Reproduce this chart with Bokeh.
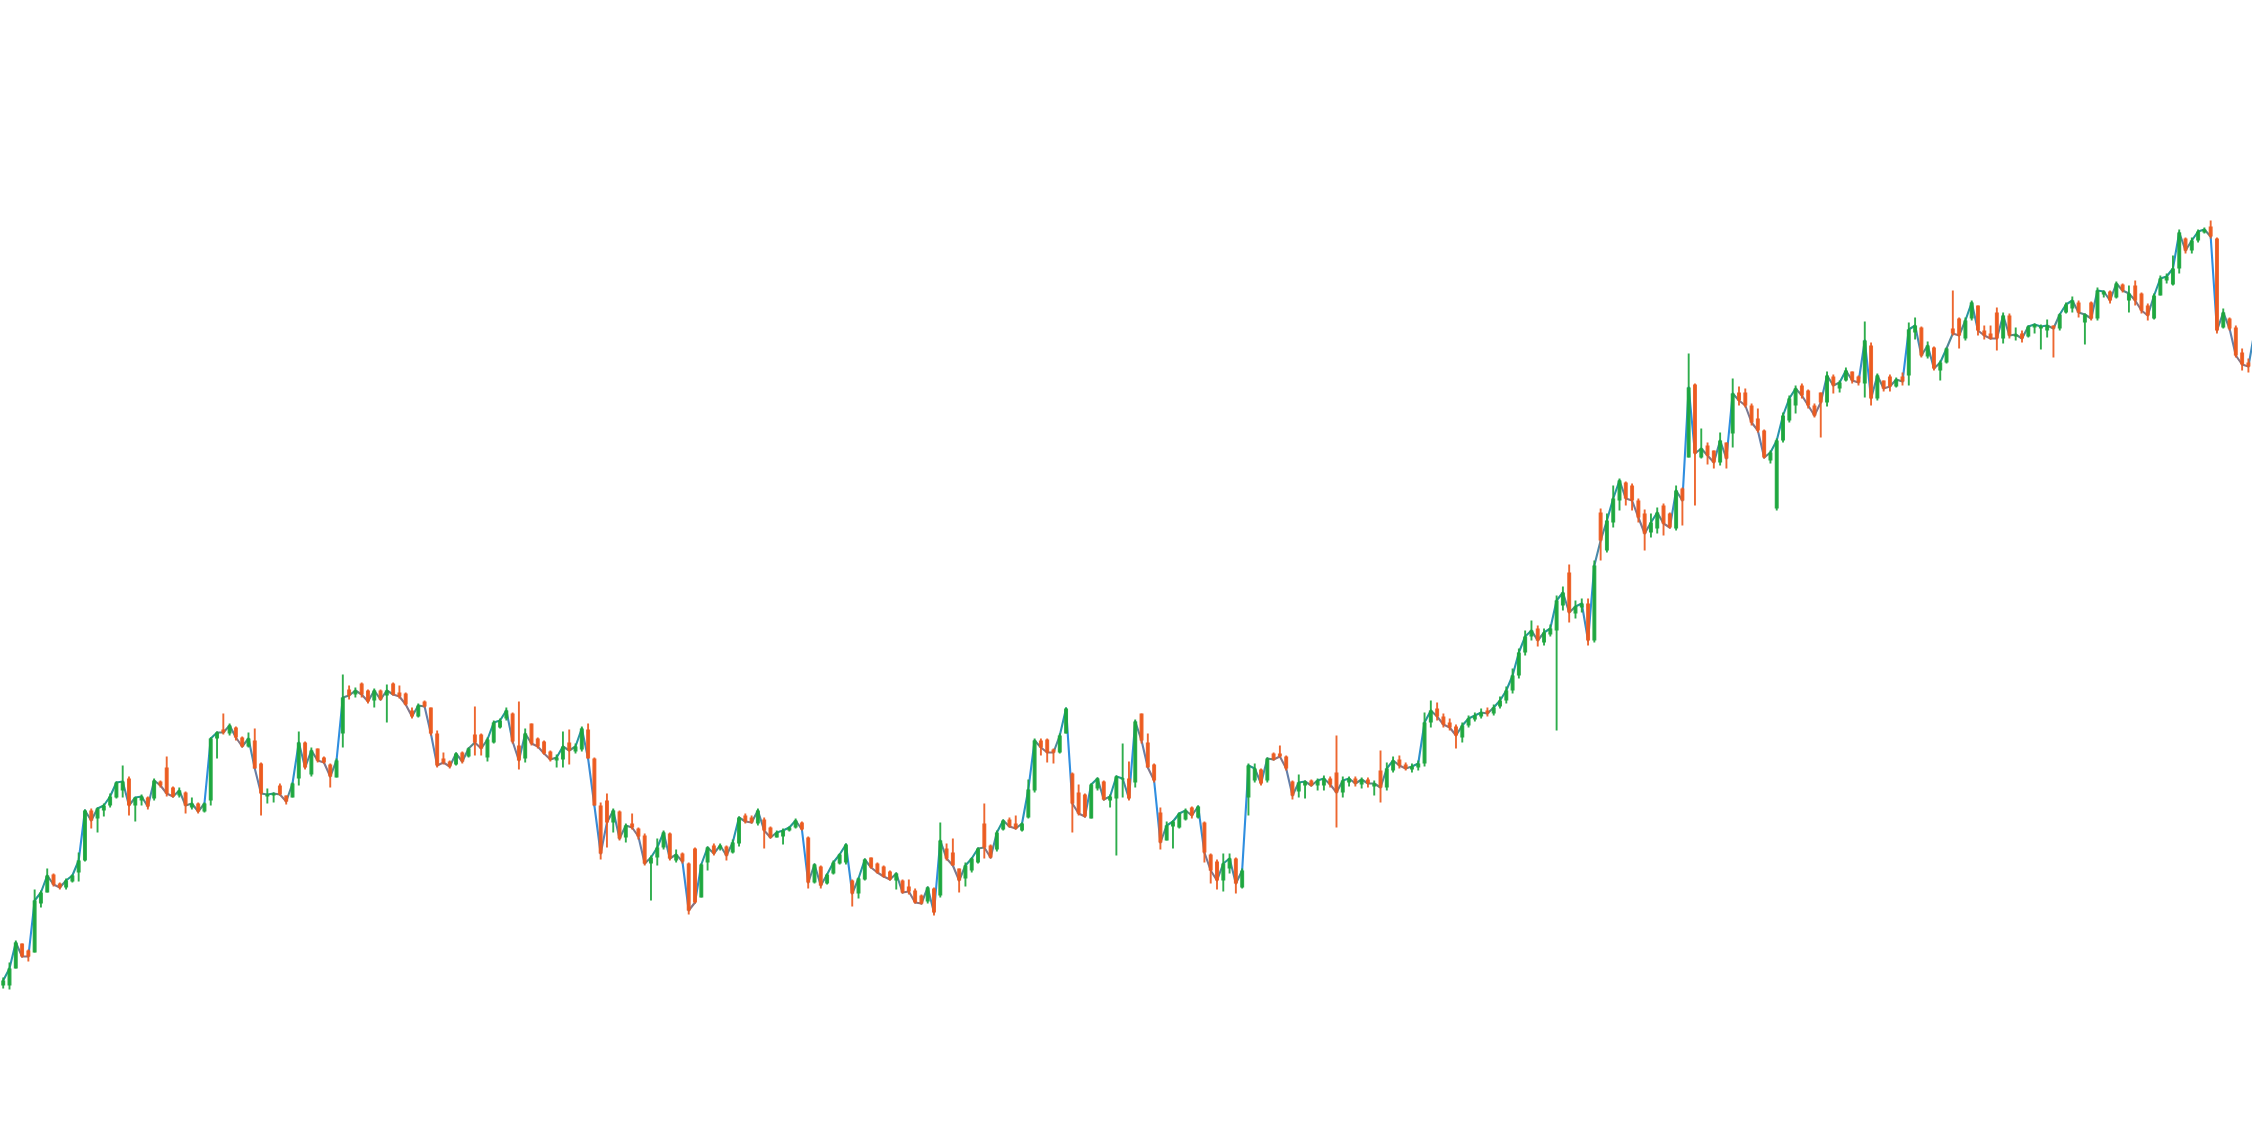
import numpy as np
from bokeh.plotting import figure
from bokeh.models import Range1d, ColumnDataSource
from bokeh.embed import file_html
from bokeh.resources import INLINE

# ---- data (arbitrary price units) ----
open_ = [
16.3,16.3,18.0,20.5,19.8,19.6,24.5,25.6,27.4,26.5,
26.1,26.7,27.6,28.8,33.8,33.0,33.8,34.3,35.1,35.8,
37.0,34.3,34.8,35.1,35.0,36.7,38.1,36.1,35.3,35.6,
34.1,34.5,33.7,34.8,41.0,41.9,41.5,42.1,41.1,40.2,
40.8,38.5,35.2,35.3,36.3,35.3,35.1,37.0,40.6,37.4,
40.0,39.1,38.4,37.1,41.5,45.9,45.4,46.5,45.8,44.8,
45.8,45.3,46.5,45.6,45.5,43.8,43.2,44.7,44.1,41.5,
39.0,38.7,38.4,39.6,39.2,41.4,41.4,39.1,40.6,42.1,
43.0,43.5,40.3,39.0,42.5,41.0,40.7,39.7,38.8,38.9,
40.6,39.7,39.9,41.9,39.0,34.3,34.8,32.6,33.7,31.1,
32.5,32.0,31.3,28.5,29.1,30.1,31.5,28.8,29.5,28.5,
30.0,25.1,28.6,30.3,30.0,30.2,29.6,30.5,33.3,33.1,
32.5,32.9,32.1,31.1,31.2,31.8,32.1,32.6,31.1,26.6,
28.2,26.5,27.5,28.5,28.6,26.8,25.5,26.9,29.1,28.5,
28.2,27.7,26.8,26.8,26.2,25.8,25.3,24.7,26.0,25.3,
30.0,29.6,28.0,27.0,27.8,28.6,32.5,30.3,29.9,31.9,
32.9,32.5,31.8,33.1,35.8,40.8,40.9,39.9,39.6,41.5,
37.5,35.6,35.4,33.0,36.0,36.7,34.8,35.0,36.9,37.0,
36.6,43.5,40.6,38.4,33.6,30.8,32.2,32.1,32.9,34.1,
33.1,32.6,29.4,28.7,26.8,28.0,29.0,26.1,35.1,36.8,
37.9,36.8,39.5,39.5,39.2,36.7,35.7,36.3,36.8,36.3,
36.3,37.0,37.6,35.6,36.6,37.0,36.4,36.9,36.2,37.8,
36.1,37.8,38.9,38.4,37.9,38.1,38.5,42.6,44.0,43.2,
42.6,42.2,41.1,42.3,42.9,43.2,43.8,43.5,44.2,44.8,
45.8,47.3,49.6,51.2,52.0,50.6,51.4,51.8,54.3,57.6,
53.5,54.1,54.5,50.8,63.6,59.8,62.6,64.8,66.6,66.3,
64.8,63.5,61.6,62.0,64.3,63.5,62.0,66.0,69.1,76.4,
69.1,70.3,69.8,68.6,70.6,71.5,75.6,75.6,74.3,73.0,
71.8,68.8,64.0,70.8,72.8,74.3,76.3,75.8,74.3,75.6,
74.6,77.2,76.0,76.8,77.7,77.2,76.5,80.3,75.0,76.8,
77.2,76.2,77.2,77.3,81.6,82.1,79.2,80.1,77.8,78.6,
82.0,83.0,81.0,83.0,84.3,81.8,81.5,83.6,81.0,83.3,
81.2,81.5,81.2,82.1,82.0,81.8,82.3,82.0,83.6,84.0,
84.6,82.6,84.6,83.0,85.4,85.7,85.1,86.4,84.8,86.3,
85.5,84.3,83.0,85.3,86.8,86.4,88.0,91.0,89.8,90.8,
91.6,92.2,91.0,82.1,83.0,82.1,79.6,78.6,78.2,77.0,74.0]

high = [
17.1,18.6,20.8,20.5,19.9,25.9,25.8,28.0,27.5,26.6,
27.0,27.4,29.6,33.9,34.0,34.1,34.5,35.5,36.7,38.3,
37.2,35.1,35.4,35.2,37.0,36.8,39.2,36.2,36.1,35.7,
35.1,34.6,34.6,41.1,41.7,43.5,42.5,42.2,41.2,41.6,
42.0,38.6,36.0,35.6,36.5,35.3,36.6,41.7,40.7,40.1,
40.0,39.2,38.5,39.0,47.4,46.3,46.1,46.6,45.9,46.0,
45.9,46.4,46.6,46.3,45.6,44.1,44.5,44.8,44.1,41.8,
39.6,38.8,39.6,39.7,40.1,44.2,41.5,41.1,42.8,43.0,
44.1,43.6,44.7,42.0,42.5,41.1,40.8,39.8,39.4,41.7,
41.9,40.5,42.2,42.5,39.1,34.6,35.5,34.0,33.8,32.5,
33.5,32.1,31.5,29.3,31.0,31.8,31.6,29.9,29.6,28.6,
30.1,28.5,30.2,30.5,30.5,30.3,30.9,33.2,33.5,33.3,
34.0,33.1,32.2,31.8,32.0,32.2,33.0,32.7,31.2,28.5,
28.3,27.5,28.8,29.5,30.5,26.9,27.1,29.0,29.1,28.6,
28.3,27.8,27.6,26.9,26.9,26.0,25.4,26.2,26.1,32.6,
30.5,31.0,28.0,28.6,29.1,30.1,34.5,30.4,31.8,32.9,
33.1,33.3,32.6,36.9,41.0,41.0,41.0,40.0,41.5,44.1,
37.6,36.4,35.5,36.5,37.1,36.8,35.4,37.3,40.5,38.7,
42.9,43.5,41.5,38.5,34.1,32.7,32.8,33.6,34.0,34.2,
34.3,32.7,29.5,28.9,29.5,29.5,29.1,28.0,38.5,38.5,
38.0,39.1,39.6,40.3,39.3,36.8,37.4,36.8,36.9,37.0,
37.3,37.2,41.3,37.2,37.2,37.2,37.1,37.1,36.8,39.8,
38.6,39.2,39.3,38.6,38.5,38.8,43.6,44.8,44.6,43.5,
43.0,42.4,42.6,43.3,43.6,44.0,44.1,44.4,45.2,46.2,
48.0,50.0,51.8,52.8,52.3,52.0,52.4,55.3,56.2,58.4,
54.8,55.0,55.0,58.8,64.0,63.5,66.3,67.0,66.7,66.5,
65.0,63.9,63.5,64.1,64.5,63.6,66.3,66.1,79.5,76.5,
72.0,70.6,69.8,71.6,70.6,77.0,76.2,76.0,74.5,74.0,
71.9,69.8,71.0,73.6,75.3,76.3,76.5,75.9,74.5,75.6,
77.7,77.4,76.8,78.1,77.7,77.3,82.7,80.6,77.5,76.8,
77.4,77.1,77.6,82.6,83.1,82.2,80.7,80.2,78.8,80.1,
85.8,83.1,83.1,84.8,84.3,82.3,82.3,84.1,83.6,83.5,
82.1,81.8,82.3,82.5,82.4,82.9,82.3,83.5,84.6,85.2,
84.8,83.5,84.7,86.1,85.8,85.8,86.7,86.5,86.3,86.8,
85.6,84.5,85.5,87.3,87.5,89.3,91.9,91.1,91.1,91.9,
92.1,92.8,91.1,84.0,83.1,82.3,80.0,79.0,82.0,77.6,76.0]

low = [
16.0,15.9,18.0,19.1,18.7,19.6,24.1,25.6,26.2,25.9,
25.9,26.6,26.7,28.7,32.0,31.6,33.2,34.1,35.0,35.1,
33.3,32.7,34.3,33.9,34.8,36.1,35.2,35.1,35.1,33.5,
33.9,33.5,33.6,34.3,39.0,41.4,41.3,40.8,40.1,40.1,
38.0,33.3,34.5,34.6,35.3,34.4,35.1,36.3,37.9,37.2,
38.6,38.5,36.1,37.1,40.1,44.9,45.1,45.1,44.5,44.1,
44.8,42.6,45.3,45.0,44.3,43.0,43.1,44.1,41.3,38.1,
38.4,38.0,38.3,38.5,39.1,39.3,39.3,38.7,40.5,42.0,
42.8,40.5,37.9,38.6,40.3,40.0,39.4,38.7,38.1,38.1,
38.4,39.5,39.7,39.0,34.3,28.9,30.1,31.6,30.8,30.6,
31.9,30.9,28.3,24.8,28.3,29.9,28.8,28.6,28.5,23.4,
24.5,25.1,27.8,29.3,29.8,28.8,29.5,30.2,32.5,32.5,
32.3,30.0,31.0,31.1,30.4,31.7,32.0,31.8,26.0,26.5,
26.0,26.4,27.4,28.4,28.4,24.2,25.0,26.8,28.0,27.5,
27.1,26.8,25.9,25.5,25.4,24.5,24.4,24.5,23.3,25.1,
28.8,28.3,25.6,26.2,27.6,28.5,29.0,29.0,29.7,31.8,
32.1,31.9,31.7,33.0,35.6,39.3,38.6,38.5,39.5,41.5,
31.6,33.3,33.1,33.0,35.8,34.8,34.1,29.3,35.1,34.8,
36.1,40.5,38.1,36.6,29.9,30.8,30.0,32.0,32.8,33.0,
33.0,28.6,26.5,25.9,25.7,27.5,25.5,26.0,33.3,36.6,
36.3,36.6,38.8,39.1,37.8,34.9,35.1,35.0,36.2,35.8,
35.8,36.1,32.1,35.1,36.2,36.2,36.0,36.1,35.3,34.6,
35.8,37.6,38.0,37.8,37.6,37.8,38.2,42.1,42.8,42.1,
41.8,40.0,40.6,42.1,42.7,43.0,43.2,43.3,44.0,44.5,
45.5,47.0,49.3,50.8,50.2,50.3,51.2,41.8,53.8,52.6,
53.0,53.6,50.3,50.6,58.8,59.6,62.1,63.8,64.3,63.8,
62.6,59.8,61.1,61.5,61.3,62.0,61.8,62.3,69.1,64.3,
69.0,68.4,68.0,68.3,68.0,70.1,74.3,74.1,72.3,71.6,
69.0,68.5,63.8,70.6,72.6,73.5,75.0,74.0,73.1,71.1,
74.2,75.5,75.6,76.7,76.5,76.3,75.1,74.3,74.8,75.7,
75.7,76.1,76.3,76.3,80.9,79.1,79.0,77.8,76.8,78.5,
81.3,80.0,80.8,82.8,81.3,80.9,80.9,79.8,80.5,81.0,
80.8,80.6,81.1,81.5,79.9,81.1,79.1,81.8,83.5,83.6,
83.1,80.4,82.8,82.8,85.1,84.5,85.0,85.6,83.6,84.3,
83.5,82.8,82.9,85.3,86.5,86.3,87.5,89.5,89.5,90.6,
91.5,91.0,81.5,82.0,81.8,79.1,77.8,77.6,77.8,72.6,73.3]

close = [
16.8,18.0,20.6,19.2,19.2,24.8,25.6,27.3,26.4,26.1,
26.8,27.3,28.8,33.8,32.8,34.0,34.3,35.2,36.6,36.7,
34.3,35.1,35.2,34.2,36.8,36.3,35.5,35.2,35.8,34.3,
34.5,33.7,34.5,41.0,41.6,41.6,42.3,41.1,40.2,41.0,
38.0,35.5,35.4,35.5,35.4,34.7,36.5,40.6,38.1,39.8,
38.8,38.6,37.2,38.8,45.1,45.3,45.8,45.4,44.7,45.8,
44.9,45.8,45.4,45.2,44.4,43.2,44.3,44.2,41.5,38.3,
38.6,38.2,39.5,38.7,40.0,40.6,40.0,40.9,42.6,42.8,
43.8,40.7,38.8,41.5,40.5,40.2,39.5,38.9,39.1,40.2,
39.8,40.2,42.0,39.0,34.3,29.5,32.6,33.8,31.0,32.3,
32.1,31.2,28.5,29.1,30.1,31.6,29.0,29.4,28.7,23.8,
24.6,28.4,30.1,29.5,30.3,29.3,30.6,33.1,32.7,32.6,
33.8,31.8,31.1,31.6,31.8,32.1,32.8,31.9,26.6,28.4,
26.3,27.4,28.6,29.4,30.4,25.5,27.0,28.9,28.1,27.6,
27.2,26.9,27.5,25.6,25.7,24.6,24.5,26.1,23.6,30.8,
29.0,28.3,26.8,28.3,29.0,30.0,30.1,29.1,31.6,32.8,
32.2,32.0,32.5,35.9,40.8,40.1,39.6,39.6,41.3,44.0,
34.5,33.5,33.2,36.4,37.0,34.9,35.2,37.2,37.0,35.0,
42.7,40.8,38.1,36.8,30.6,32.3,32.7,33.5,33.8,33.3,
34.2,29.6,27.8,26.8,28.5,29.0,26.5,27.8,38.3,38.0,
36.5,39.0,38.9,39.2,38.0,35.3,36.6,36.7,36.3,36.8,
37.0,36.4,35.6,36.8,37.0,36.5,36.9,36.5,36.5,36.1,
38.0,38.8,38.3,38.0,38.2,38.5,42.6,43.8,43.2,42.4,
42.1,41.3,42.3,43.0,43.3,43.6,43.5,44.1,44.8,45.8,
47.3,49.6,51.2,51.8,50.8,51.6,52.0,54.8,55.6,53.6,
54.2,54.5,50.8,58.3,60.8,62.8,65.0,66.8,65.0,64.8,
63.1,61.5,62.6,63.6,62.5,62.1,65.8,64.8,76.1,69.5,
70.0,69.3,68.6,70.8,69.0,75.5,74.8,74.3,72.6,71.8,
69.1,69.6,70.8,73.3,75.0,76.0,75.3,74.3,73.3,74.6,
77.3,76.3,76.6,77.8,76.8,76.6,80.8,75.0,77.3,76.0,
76.2,76.9,76.7,81.9,82.3,79.3,80.3,78.0,78.6,80.0,
81.5,81.3,82.8,84.6,81.8,81.3,81.0,81.0,83.3,81.3,
81.4,81.0,82.2,82.4,82.2,82.3,82.0,83.4,84.4,84.8,
83.6,83.4,83.0,85.8,85.7,84.8,86.5,85.8,85.5,84.8,
83.8,83.3,85.3,87.0,87.2,88.0,91.6,89.8,90.8,91.7,
91.9,91.2,81.8,83.6,82.0,79.3,78.4,78.2,81.8,73.8,75.3]

n = len(close)
if not (len(open_) == len(high) == len(low) == n):
    raise SystemExit("length mismatch %d %d %d %d" % (len(open_), len(high), len(low), n))

# ---- styles ----
GREEN = "#1ca63d"
ORANGE = "#ec5a1e"
BLUE = "#2f8ee0"
W, H = 2252, 1132
X0, X1 = -0.43, 357.65
Y0, Y1 = 1.6, 114.8

o = np.array(open_); c = np.array(close); hi = np.array(high); lo = np.array(low)
idx = np.arange(n)
up = c >= o
bar_col = np.where(up, GREEN, ORANGE)


def rgb(hx):
    return np.array([int(hx[1:3], 16), int(hx[3:5], 16), int(hx[5:7], 16)], dtype=float)


def hexc(a):
    a = np.clip(np.round(a), 0, 255).astype(int)
    return "#%02x%02x%02x" % tuple(a)

# close line, each step tinted by neighbouring bar colours when short
px_x = W / (X1 - X0)
px_y = H / (Y1 - Y0)
seg_len = np.hypot(px_x, np.diff(c) * px_y)
seg_cols = []
for i in range(n - 1):
    endc = (rgb(bar_col[i]) + rgb(bar_col[i + 1])) / 2.0
    mix = 0.5 * endc + 0.5 * rgb(BLUE)
    t = min(1.0, max(0.0, (seg_len[i] - 8.0) / 45.0))
    seg_cols.append(hexc((1 - t) * mix + t * rgb(BLUE)))

line_src = ColumnDataSource(dict(x0=idx[:-1], y0=c[:-1], x1=idx[1:], y1=c[1:], col=seg_cols))
bar_src = ColumnDataSource(dict(x=idx, hi=hi, lo=lo, top=np.maximum(o, c), bot=np.minimum(o, c), col=bar_col))

p = figure(width=W, height=H, output_backend="svg", toolbar_location=None,
           x_range=Range1d(X0, X1), y_range=Range1d(Y0, Y1), min_border=0)
p.xaxis.visible = False
p.yaxis.visible = False
p.grid.visible = False
p.outline_line_color = None
p.background_fill_color = "white"
p.border_fill_color = "white"

p.segment(x0="x0", y0="y0", x1="x1", y1="y1", color="col", line_width=2.1,
          line_cap="round", source=line_src)
p.segment(x0="x", y0="lo", x1="x", y1="hi", color="col", line_width=1.9,
          line_alpha=0.92, source=bar_src)
p.vbar(x="x", top="top", bottom="bot", width=0.63, fill_color="col",
       line_color=None, fill_alpha=0.92, source=bar_src)

open("out.html", "w").write(file_html(p, INLINE))
